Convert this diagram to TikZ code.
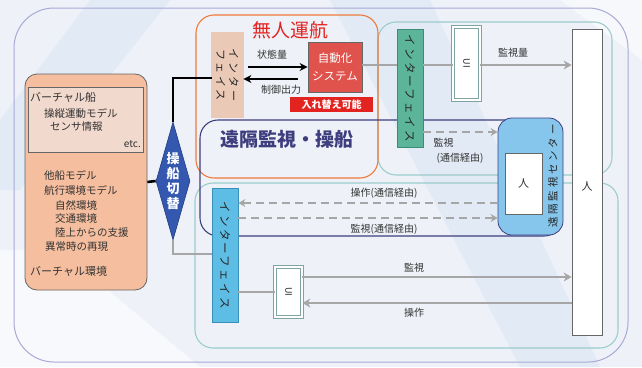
\documentclass[tikz,border=0pt]{standalone}
\usepackage{fontspec}
\setmainfont{Noto Sans CJK JP}
\usetikzlibrary{shapes.geometric,arrows.meta}
\definecolor{bgc}{HTML}{EEF2F8}
\definecolor{bandc}{HTML}{E1EAF5}
\definecolor{outerc}{HTML}{A9A9D6}
\definecolor{orangec}{HTML}{EE7A3C}
\definecolor{tealc}{HTML}{9CCCCC}
\definecolor{purplec}{HTML}{3E3E7E}
\definecolor{peachc}{HTML}{F5BE9E}
\definecolor{peachin}{HTML}{F2D9CD}
\definecolor{diac}{HTML}{3458B0}
\definecolor{redbox}{HTML}{E0524C}
\definecolor{redtag}{HTML}{E3231F}
\definecolor{tealif}{HTML}{5CB598}
\definecolor{tealifd}{HTML}{3B8C74}
\definecolor{blueif}{HTML}{5DBDE4}
\definecolor{blueifd}{HTML}{3A8FB8}
\definecolor{centerc}{HTML}{86C6EC}
\definecolor{linec}{HTML}{A6A6A6}
\definecolor{pifc}{HTML}{EBC9B7}
\begin{document}
\begin{tikzpicture}[x=1pt,y=-1pt,
  region/.style={draw=#1, line width=1.1pt, rounded corners=18pt},
  plainbox/.style={rectangle, inner sep=0pt, draw=gray!80!black, line width=0.8pt},
  lbl/.style={font=\fontsize{10}{12}\selectfont, text=black!80},
  vtext/.style={rotate=-90, font=\fontsize{11.5}{13}\selectfont\addfontfeatures{LetterSpace=20}, align=center, text=black!85},
  ptext/.style={anchor=west, font=\fontsize{10.5}{12}\selectfont, text=black!80, inner sep=0pt},
  gline/.style={draw=linec, line width=2.6pt},
  garrow/.style={draw=linec, line width=2.4pt, -{Stealth[length=8pt,width=9pt]}},
  darrow/.style={draw=linec, line width=2pt, dash pattern=on 8pt off 5pt, -{Stealth[length=7pt,width=8pt]}},
  barrow/.style={draw=black, line width=2.2pt, -{Stealth[length=8pt,width=8pt]}}
]
\useasboundingbox (0,0) rectangle (642,367);
% background
\fill[bgc] (0,0) rectangle (642,367);
\fill[bandc] (90,0) -- (170,0) -- (20,190) -- (0,190) -- (0,120) -- cycle;
\fill[white,opacity=0.6] (0,250) -- (60,250) -- (200,367) -- (0,367) -- cycle;
\fill[bandc] (330,0) -- (430,0) -- (600,367) -- (520,367) -- cycle;
\fill[white,opacity=0.5] (560,0) -- (642,0) -- (642,60) -- cycle;

% outer frame
\draw[outerc, line width=1pt, rounded corners=40pt] (14,8) rectangle (628,362);

% regions
\draw[region=tealc] (378,22) rectangle (612,175);
\draw[region=tealc] (195,183) rectangle (618,348);
\draw[region=orangec] (196,15) rectangle (378,178);
\draw[region=purplec] (200,120) rectangle (562,236);

% titles
\node[text=redtag, font=\fontsize{19}{20}\selectfont] (t1) at (290,30) {無人運航};
\node[text=purplec, font=\bfseries\fontsize{19}{20}\selectfont] (t2) at (287,139) {遠隔監視・操船};

% left virtual environment
\node[plainbox, fill=peachc, rounded corners=12pt, minimum width=122pt, minimum height=216pt] (peach) at (86,182) {};
\node[plainbox, fill=peachin, minimum width=115pt, minimum height=65pt] (vship) at (85.5,119.5) {};
\node[ptext, font=\fontsize{11}{12}\selectfont] (p1) at (30,97) {バーチャル船};
\node[ptext] (p2) at (44,113) {操縦運動モデル};
\node[ptext] (p3) at (50,127) {センサ情報};
\node[anchor=east, lbl, inner sep=0pt] (p4) at (141,144) {etc.};
\node[ptext] (p5) at (44,175) {他船モデル};
\node[ptext] (p6) at (44,190) {航行環境モデル};
\node[ptext] (p7) at (55,205) {自然環境};
\node[ptext] (p8) at (55,219) {交通環境};
\node[ptext] (p9) at (55,233) {陸上からの支援};
\node[ptext] (p10) at (45,247) {異常時の再現};
\node[ptext, font=\fontsize{11}{12}\selectfont] (p11) at (30,271) {バーチャル環境};

% switch diamond
\node[diamond, fill=diac, draw=diac!70!black, line width=0.6pt, minimum width=34pt, minimum height=118pt, inner sep=0pt] (sw) at (173,181) {};
\node[text=white, font=\bfseries\fontsize{13}{15}\selectfont, align=center] (swt) at (sw) {操\\船\\切\\替};

% unmanned navigation contents
\node[plainbox, fill=pifc, double=pifc, double distance=1.2pt, minimum width=31pt, minimum height=84pt] (pif) at (227.5,75) {};
\node[vtext, font=\fontsize{11}{13}\selectfont\addfontfeatures{LetterSpace=25}] at (pif) {インター\\フェイス};
\node[plainbox, fill=redbox, minimum width=54pt, minimum height=50pt, text=white, font=\fontsize{11.5}{18}\selectfont, align=center] (auto) at (335,67) {自動化\\システム};
\node[rectangle, fill=redtag, inner sep=0pt, minimum width=83pt, minimum height=15pt, text=white, font=\bfseries\fontsize{10}{11}\selectfont] (swap) at (331.5,104.5) {入れ替え可能};
\draw[barrow] (pif.east |- 0,67) ++(5,0) coordinate (a1s) -- (auto.west |- 0,67) coordinate (a1e);
\draw[barrow] (auto.west |- 0,79) ++(-10,0) -- (pif.east |- 0,79);
\node[lbl] (l1) at (272,55) {状態量};
\node[lbl] (l2) at (281,90) {制御出力};

% upper right monitoring
\node[plainbox, fill=tealif, draw=tealifd, minimum width=26pt, minimum height=118pt] (tif) at (410,88) {};
\node[vtext] at (tif) {インターフェイス};
\node[plainbox, fill=white, draw=tealc!80!black, double=white, double distance=1.5pt, minimum width=27pt, minimum height=73pt] (ui1) at (466.5,63.5) {};
\node[vtext, font=\fontsize{9}{10}\selectfont] at (ui1) {UI};
\node[plainbox, fill=white, minimum width=30pt, minimum height=306pt] (man) at (587,182) {};
\node[lbl, font=\fontsize{11}{12}\selectfont] at (587,186) {人};

\draw[gline] (auto.east |- 0,65) -- (tif.west |- 0,65);
\draw[gline] (tif.east |- 0,65) -- (ui1.west |- 0,65);
\draw[garrow] (ui1.east |- 0,65) -- (man.west |- 0,65);
\node[lbl] (l3) at (513,53) {監視量};

% center box
\node[plainbox, fill=centerc, draw=purplec, rounded corners=14pt, minimum width=65pt, minimum height=117pt] (ctr) at (530.5,176.5) {};
\node[plainbox, fill=white, minimum width=37pt, minimum height=61pt] (man2) at (523.5,183.5) {};
\node[lbl, font=\fontsize{11}{12}\selectfont] at (man2) {人};
\node[rotate=90, font=\fontsize{10.5}{11}\selectfont\addfontfeatures{LetterSpace=26}, text=black!85] (ctrt) at (553,176) {遠隔監視センター};

\draw[darrow] (tif.east |- 0,132) -- (ctr.west |- 0,132);
\node[lbl, anchor=west] (l4) at (430,143) {監視};
\node[lbl] (l5) at (460,158) {(通信経由)};

% lower remote control
\node[plainbox, fill=blueif, draw=blueifd, minimum width=26pt, minimum height=134pt] (bif) at (225,255) {};
\node[vtext] at (bif) {インターフェイス};
\node[plainbox, fill=white, draw=tealc!80!black, double=white, double distance=1.5pt, minimum width=27pt, minimum height=50pt] (ui2) at (288.5,292) {};
\node[vtext, font=\fontsize{9}{10}\selectfont] at (ui2) {UI};

\draw[darrow] (ctr.west |- 0,203) -- (bif.east |- 0,203);
\draw[darrow] (bif.east |- 0,218) -- (ctr.west |- 0,218);
\node[lbl] (l6) at (384,193) {操作(通信経由)};
\node[lbl] (l7) at (384,229) {監視(通信経由)};

\draw[gline] (bif.east |- 0,292) -- (ui2.west |- 0,292);
\draw[garrow] (ui2.east |- 0,277) -- (man.west |- 0,277);
\draw[garrow] (man.west |- 0,303) -- (ui2.east |- 0,303);
\node[lbl] (l8) at (414,268) {監視};
\node[lbl] (l9) at (414,313) {操作};

% switch connections
\draw[black, line width=2.6pt] (peach.east) -- (sw.west);
\draw[black, line width=2.6pt] (sw.north) -- (173,78) -- (pif.west |- 0,78);
\draw[gline] (sw.south) -- (173,254) -- (bif.west |- 0,254);
\end{tikzpicture}
\end{document}
